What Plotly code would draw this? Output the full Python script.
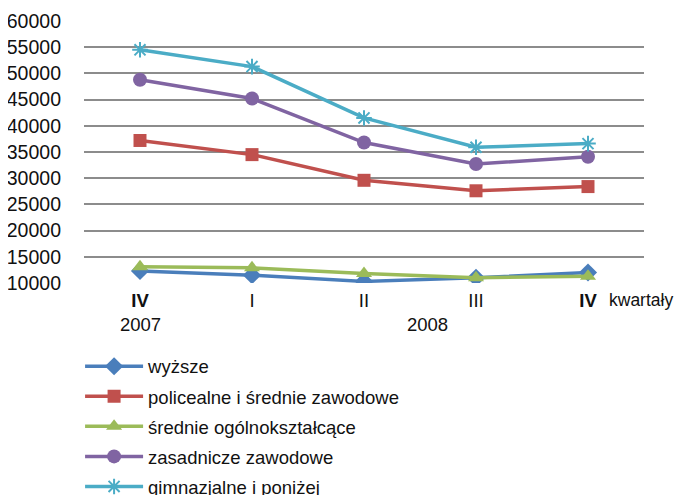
import plotly.graph_objects as go

categories = ["IV 2007", "I 2008", "II 2008", "III 2008", "IV 2008"]
tick_labels = ["<b>IV</b>", "I", "II", "III", "<b>IV</b>"]
years = ["2007", "2008"]

wyzsze = [12300, 11500, 10300, 11000, 12000]
policealne = [37200, 34500, 29600, 27600, 28400]
srednie_ogolne = [13100, 12900, 11800, 11000, 11300]
zasadnicze = [48800, 45200, 36800, 32700, 34100]
gimnazjalne = [54500, 51300, 41500, 35900, 36600]

series = [
    ("wyższe", wyzsze, "#4A7EBB", "diamond", 14),
    ("policealne i średnie zawodowe", policealne, "#C0504D", "square", 13),
    ("średnie ogólnokształcące", srednie_ogolne, "#9BBB59", "triangle-up", 14),
    ("zasadnicze zawodowe", zasadnicze, "#8064A2", "circle", 14),
    ("gimnazjalne i poniżej", gimnazjalne, "#4BACC6", "asterisk-open", 13),
]

FS = 18.5

fig = go.Figure()
for i, (name, vals, color, sym, size) in enumerate(series):
    marker = dict(symbol=sym, size=size, color=color)
    if sym == "asterisk-open":
        marker["line"] = dict(color=color, width=2)
    fig.add_trace(go.Scatter(
        x=categories, y=vals, name=name, mode="lines+markers",
        line=dict(color=color, width=3.5), marker=marker,
        legendgroup=f"g{i}",
    ))

fig.update_layout(
    width=685, height=495,
    margin=dict(l=76, r=49, t=13, b=220, autoexpand=False),
    paper_bgcolor="white", plot_bgcolor="white",
    font=dict(family="Liberation Sans, Arial, sans-serif", size=FS, color="#111111"),
    showlegend=True,
    legend=dict(x=-0.007, y=-0.247, xanchor="left", yanchor="top",
                font=dict(size=FS), itemwidth=58, tracegroupgap=3,
                bgcolor="rgba(0,0,0,0)"),
    xaxis=dict(type="category", categoryorder="array", categoryarray=categories,
               range=[-0.5, 4.5],
               tickvals=categories, ticktext=tick_labels, showgrid=False,
               showline=False, zeroline=False, ticks="",
               tickfont=dict(size=FS), ticklabelstandoff=4),
    yaxis=dict(range=[10000, 60000], dtick=5000, tick0=10000,
               showgrid=True, gridcolor="#8C8C8C", gridwidth=2,
               showline=False, zeroline=False, ticks="",
               tickfont=dict(size=19.5), ticklabelstandoff=22,
               tickformat="d"),
)

fig.add_annotation(x=0, y=-0.16, xref="x", yref="paper", text=years[0],
                   showarrow=False, yanchor="middle", font=dict(size=FS))
fig.add_annotation(x=2.57, y=-0.16, xref="x", yref="paper", text=years[1],
                   showarrow=False, yanchor="middle", font=dict(size=FS))
fig.add_annotation(x=4.17, y=-0.065, xref="x", yref="paper", text="kwartały",
                   showarrow=False, xanchor="left", yanchor="middle",
                   font=dict(size=17.5))

fig.write_html("out.html")
